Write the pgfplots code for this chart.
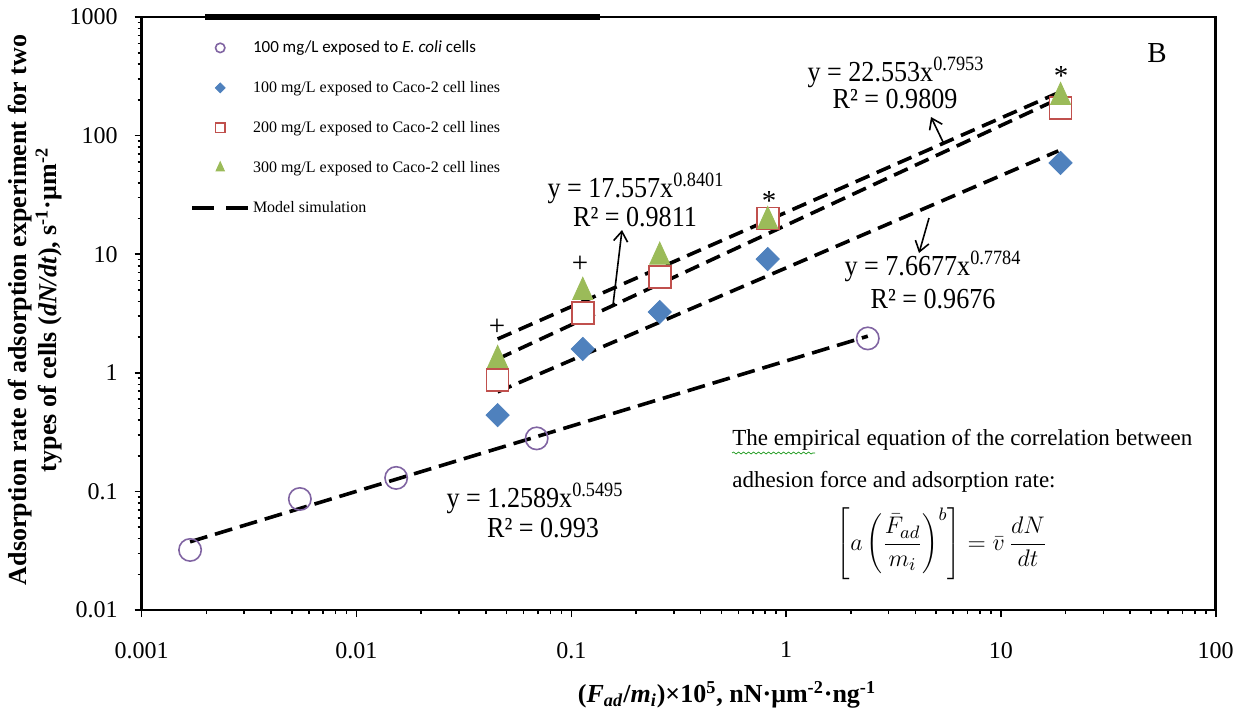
\documentclass[border=0pt]{standalone}
\usepackage{fontspec}
\setmainfont{Liberation Serif}
\newfontfamily\carlito{Carlito}
\usepackage{pgfplots}
\pgfplotsset{compat=1.18}
\usetikzlibrary{decorations.pathmorphing,arrows.meta}
\definecolor{cpurple}{HTML}{8064A2}
\definecolor{cblue}{HTML}{4F81BD}
\definecolor{cred}{HTML}{C0504D}
\definecolor{cgreen}{HTML}{9BBB59}
\begin{document}
\begin{tikzpicture}
\begin{axis}[
  xmode=log, ymode=log, scale only axis, width=537pt, height=296.5pt,
  xmin=0.001, xmax=100, ymin=0.01, ymax=1000,
  clip=false,
  axis line style={line width=1.4pt},
  tick align=outside, tick pos=left,
  major tick length=3.5pt, minor tick length=2pt,
  every tick/.style={black, line width=0.8pt},
  xtick={0.001,0.01,0.1,1,10,100}, xticklabels={0.001,0.01,0.1,1,10,100},
  ytick={0.01,0.1,1,10,100,1000}, yticklabels={0.01,0.1,1,10,100,1000},
  /pgf/number format/assume math mode=true,
  ticklabel style={font=\fontsize{12}{14}\selectfont},
  xticklabel style={yshift=-9pt},
  yticklabel style={xshift=-5pt},
  xlabel={(\textit{F}\textsubscript{\textit{ad}}/\textit{m}\textsubscript{\textit{i}})×10\textsuperscript{5}, nN·μm\textsuperscript{-2}·ng\textsuperscript{-1}},
  xlabel style={font=\bfseries\fontsize{13}{15}\selectfont, at={(axis description cs:0.545,-0.1433)}, anchor=center},
  ylabel={Adsorption rate of adsorption experiment for two\\types of cells (\textit{dN/dt}), s\textsuperscript{-1}·μm\textsuperscript{-2}},
  ylabel style={font=\bfseries\fontsize{13}{15}\selectfont, align=center, at={(axis description cs:-0.0994,0.506)}, anchor=center},
  legend style={draw=none, fill=none, at={(0.045,0.968)}, anchor=north west,
    font=\fontsize{8}{9.6}\selectfont, row sep=8.5pt, inner sep=0pt,
    nodes={inner sep=1.5pt, text height=6.5pt, text depth=2pt}},
  legend cell align=left,
  legend image code/.code={\draw[mark repeat=2,mark phase=2,every mark/.append style={scale=0.42}] plot coordinates {(0pt,0pt) (14pt,0pt) (28pt,0pt)};},
]
% E. coli
\addplot[only marks, mark=o, mark size=5.6pt, draw=cpurple, mark options={line width=0.8pt}]
  coordinates {(0.00168,0.0321) (0.00545,0.0863) (0.0153,0.130) (0.069,0.28) (2.40,1.95)};
\addlegendentry{{\carlito\fontsize{8.5}{10}\selectfont 100 mg/L exposed to \textit{E. coli} cells}}
% 100 mg/L Caco-2
\addplot[only marks, mark=square*, mark size=4.1pt, color=cblue, mark options={rotate=45, fill=cblue, draw=cblue}]
  coordinates {(0.0454,0.44) (0.1131,1.59) (0.2581,3.26) (0.8212,9.1) (18.96,58.8)};
\addlegendentry{100 mg/L exposed to Caco-2 cell lines}
% 200 mg/L Caco-2
\addplot[only marks, mark=square*, mark size=5.5pt, color=cred, mark options={fill=white, draw=cred, line width=0.8pt}]
  coordinates {(0.0454,0.87) (0.1131,3.19) (0.2581,6.4) (0.8212,20) (18.96,171)};
\addlegendentry{200 mg/L exposed to Caco-2 cell lines}
% 300 mg/L Caco-2
\addplot[only marks, mark=triangle*, mark size=5.8pt, color=cgreen, mark options={fill=cgreen, draw=cgreen, yscale=1.27}]
  coordinates {(0.0454,1.28) (0.1131,4.8) (0.2581,9.5) (0.8212,19) (18.96,211)};
\addlegendentry{300 mg/L exposed to Caco-2 cell lines}
\addlegendimage{black, mark=none, line width=1.8pt, dash pattern=on 11pt off 6pt}
\addlegendentry{Model simulation}
% model lines
\addplot[forget plot, black, line width=1.8pt, dash pattern=on 9pt off 4pt] coordinates {(0.00168,0.0376) (2.4,2.037)};
\addplot[forget plot, black, line width=1.8pt, dash pattern=on 7.5pt off 4pt] coordinates {(0.0454,0.6906) (18.5,74.31)};
\addplot[forget plot, black, line width=1.8pt, dash pattern=on 7.5pt off 4pt] coordinates {(0.0454,1.3068) (18.5,203.7)};
\addplot[forget plot, black, line width=1.8pt, dash pattern=on 7.5pt off 4pt] coordinates {(0.0454,1.928) (18.5,229.6)};
\end{axis}
\begin{scope}[shift={(current axis.south west)}, shift={(-70.85pt,305pt)}, x=0.5pt, y=-0.5pt]
  \draw[line width=2.6pt] (205,17) -- (600,17);
  \begin{scope}[font=\fontsize{14.5}{16}\selectfont]
    \node[anchor=base, inner sep=0pt, xscale=0.9] at (896,81) {y = 22.553x\textsuperscript{0.7953}};
    \node[anchor=base, inner sep=0pt, xscale=0.9] at (895,108) {R² = 0.9809};
    \node[anchor=base, inner sep=0pt, xscale=0.9] at (636,197) {y = 17.557x\textsuperscript{0.8401}};
    \node[anchor=base, inner sep=0pt, xscale=0.9] at (635,226) {R² = 0.9811};
    \node[anchor=base, inner sep=0pt, xscale=0.9] at (933,275) {y = 7.6677x\textsuperscript{0.7784}};
    \node[anchor=base, inner sep=0pt, xscale=0.9] at (933,308) {R² = 0.9676};
    \node[anchor=base, inner sep=0pt, xscale=0.9] at (535,507) {y = 1.2589x\textsuperscript{0.5495}};
    \node[anchor=base, inner sep=0pt, xscale=0.9] at (543,537) {R² = 0.993};
    \node[inner sep=0pt] at (497,327) {+};
    \node[inner sep=0pt] at (580,264) {+};
    \node[inner sep=0pt] at (769,201) {*};
    \node[inner sep=0pt] at (1061,76) {*};
    \node[inner sep=0pt] at (1157,53) {B};
  \end{scope}
  \draw[line width=0.8pt, -{Straight Barb[length=5pt,width=7pt]}] (943,142) -- (931,117);
  \draw[line width=0.8pt, -{Straight Barb[length=5pt,width=7pt]}] (929,218) -- (919,253);
  \draw[line width=0.8pt, -{Straight Barb[length=5pt,width=7pt]}] (617,305) -- (613,305) -- (622,230);
  \begin{scope}[font=\fontsize{11.5}{14}\selectfont]
    \node[anchor=base west, inner sep=0pt] at (732,445) {The empirical equation of the correlation between};
    \node[anchor=base west, inner sep=0pt] at (732,487) {adhesion force and adsorption rate:};
  \end{scope}
  \draw[green!55!black, line width=0.3pt, decorate, decoration={snake, amplitude=0.5pt, segment length=2.5pt}] (732,453) -- (815,453);
  \node[inner sep=0pt] at (942,544) {\fontsize{13}{15}\selectfont $\displaystyle \left[a\left(\frac{\bar{F}_{ad}}{m_{i}}\right)^{b}\right]=\bar{v}\,\frac{dN}{dt}$};
  \pgfresetboundingbox
  \path[use as bounding box] (0,0) rectangle (1234,714);
\end{scope}
\end{tikzpicture}
\end{document}
